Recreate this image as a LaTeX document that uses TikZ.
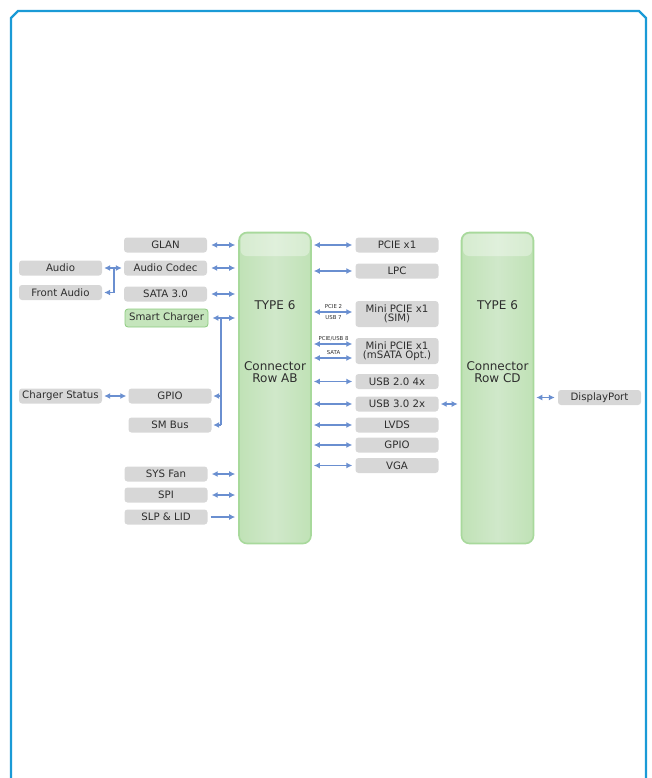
\documentclass[tikz,border=0pt]{standalone}
\usepackage{fontspec}
\setmainfont{DejaVu Sans}
\usetikzlibrary{arrows.meta}
\definecolor{frameblue}{HTML}{1A9AD6}
\definecolor{boxgray}{HTML}{D7D7D7}
\definecolor{txtgray}{HTML}{2E2E2E}
\definecolor{arrblue}{HTML}{6A8FD0}
\definecolor{chgfill}{HTML}{C5E5BC}
\definecolor{chgdraw}{HTML}{8CCB7E}
\definecolor{conedge}{HTML}{A8D99C}
\definecolor{conmid}{HTML}{D0E8CA}
\definecolor{conside}{HTML}{C0E2B6}
\tikzset{
  gbox/.style={rounded corners=3pt, fill=boxgray, minimum width=83pt, minimum height=15pt,
    inner sep=0pt, text=txtgray, font=\fontsize{10.2}{11}\selectfont, align=center},
  tallbox/.style={gbox, minimum height=26pt},
  chgbox/.style={gbox, fill=chgfill, draw=chgdraw, line width=0.8pt, minimum height=18pt},
  conbox/.style={rounded corners=8pt, draw=conedge, line width=1.6pt, left color=conside,
    right color=conside, middle color=conmid, minimum width=72pt, minimum height=311pt, inner sep=0pt},
  contxt/.style={text=txtgray, font=\fontsize{12}{12}\selectfont, align=center, inner sep=0pt},
  tiny/.style={text=txtgray, font=\fontsize{5.4}{6}\selectfont, inner sep=0pt},
  dbl/.style={draw=arrblue, line width=1.4pt, {Latex[length=6pt,width=6pt]}-{Latex[length=6pt,width=6pt]}},
  sgl/.style={draw=arrblue, line width=1.4pt, -{Latex[length=6pt,width=6pt]}},
  pln/.style={draw=arrblue, line width=1.4pt},
}
\begin{document}
\begin{tikzpicture}[x=1pt,y=-1pt]
\useasboundingbox (0,0) rectangle (651,778);
% frame
\draw[frameblue, line width=2.4pt] (11,778) -- (11,18) -- (18,11) -- (639,11) -- (646,18) -- (646,778);

% connectors
\node[conbox] (ab) at (275,388) {};
\node[conbox] (cd) at (497.5,388) {};
\fill[white, opacity=0.35, rounded corners=6pt] (240.5,234) rectangle (309.5,256);
\fill[white, opacity=0.35, rounded corners=6pt] (463,234) rectangle (532,256);
\node[contxt] (abt) at (275,305) {TYPE 6};
\node[contxt] (abn) at (275,372) {Connector\\Row AB};
\node[contxt] (cdt) at (497.5,305) {TYPE 6};
\node[contxt] (cdn) at (497.5,372) {Connector\\Row CD};

% left boxes
\node[gbox] (glan) at (165.5,245) {GLAN};
\node[gbox] (codec) at (165.5,268) {Audio Codec};
\node[gbox] (sata) at (165.5,294) {SATA 3.0};
\node[chgbox] (chg) at (166.5,318) {Smart Charger};
\node[gbox] (audio) at (60.5,268) {Audio};
\node[gbox] (faudio) at (60.5,292.5) {Front Audio};
\node[gbox] (chst) at (60.5,396) {Charger Status};
\node[gbox] (lgpio) at (170,396) {GPIO};
\node[gbox] (smbus) at (170,425) {SM Bus};
\node[gbox] (fan) at (166,474) {SYS Fan};
\node[gbox] (spi) at (166,495) {SPI};
\node[gbox] (slp) at (166,517) {SLP \& LID};

% right boxes
\node[gbox] (pcie) at (397,245) {PCIE x1};
\node[gbox] (lpc) at (397,271) {LPC};
\node[tallbox] (sim) at (397,314) {Mini PCIE x1\\[-2pt](SIM)};
\node[tallbox] (msata) at (397,351) {Mini PCIE x1\\[-2pt](mSATA Opt.)};
\node[gbox] (usb2) at (397,381.5) {USB 2.0 4x};
\node[gbox] (usb3) at (397,404) {USB 3.0 2x};
\node[gbox] (lvds) at (397,425) {LVDS};
\node[gbox] (rgpio) at (397,445) {GPIO};
\node[gbox] (vga) at (397,465.5) {VGA};
\node[gbox] (dp) at (599.5,397.5) {DisplayPort};

% left arrows
\foreach \n in {glan,codec,sata,chg,fan,spi}
  \draw[dbl, shorten <=4pt, shorten >=3pt] (\n.east) -- (\n.east -| ab.west);
\draw[sgl, shorten <=3pt, shorten >=3pt] (slp.east) -- (slp.east -| ab.west);
\draw[dbl, shorten <=2pt, shorten >=2pt] (audio.east) -- (codec.west);
\coordinate (aj) at (114,268);
\draw[pln] (aj) -- (aj |- faudio.east);
\draw[sgl, shorten >=2pt] (aj |- faudio.east) -- (faudio.east);
\coordinate (sj) at (221,318);
\draw[pln] (sj) -- (sj |- smbus.east);
\draw[sgl, shorten >=1.5pt] (sj |- lgpio.east) -- (lgpio.east);
\draw[sgl, shorten >=1.5pt] (sj |- smbus.east) -- (smbus.east);
\draw[dbl, shorten <=2pt, shorten >=2pt] (chst.east) -- (lgpio.west);

% right arrows
\foreach \n in {pcie,lpc,usb2,usb3,lvds,rgpio,vga}
  \draw[dbl, shorten <=2pt, shorten >=3pt] (ab.east |- \n.west) -- (\n.west);
\draw[dbl, shorten <=2pt, shorten >=3pt] ([yshift=2pt]ab.east |- sim.west) -- node[tiny, above=2.5pt] (l1) {PCIE 2} node[tiny, below=2.5pt] (l2) {USB 7} ([yshift=2pt]sim.west);
\draw[dbl, shorten <=2pt, shorten >=3pt] ([yshift=7pt]ab.east |- msata.west) -- node[tiny, above=2.5pt] (l3) {PCIE/USB 8} ([yshift=7pt]msata.west);
\draw[dbl, shorten <=2pt, shorten >=3pt] ([yshift=-7pt]ab.east |- msata.west) -- node[tiny, above=2.5pt] (l4) {SATA} ([yshift=-7pt]msata.west);
\draw[dbl, shorten <=2pt, shorten >=3pt] (usb3.east) -- (usb3.east -| cd.west);
\draw[dbl, shorten <=2pt, shorten >=3pt] (dp.west -| cd.east) -- (dp.west);
\end{tikzpicture}
\end{document}
